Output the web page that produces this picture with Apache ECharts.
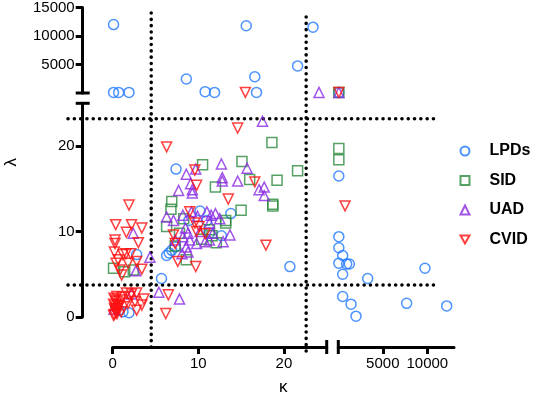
<!DOCTYPE html>
<html>
<head>
<meta charset="utf-8">
<script src="https://cdn.jsdelivr.net/npm/echarts@6/dist/echarts.min.js"></script>
<style>
html, body { margin: 0; padding: 0; background: #fff; }
#chart { width: 536px; height: 393px; }
</style>
</head>
<body>
<div id="chart"></div>
<script>
// points are [kappa, lambda]
var lpds = [
    [0.7, 0.8], [1.2, 0.6], [1.9, 0.5], [0.4, 1.1], [2.8, 7.3], [5.7, 4.5], [6.3, 7.2], [6.6, 7.5],
    [6.9, 7.8], [7.3, 8.2], [7.4, 17.3], [8.9, 11.3], [10.2, 12.4], [11.0, 11.3], [11.3, 9.8],
    [12.7, 9.5], [13.8, 12.1], [20.7, 5.9],
    [0.1, 12000], [0.1, 100], [0.7, 100], [1.9, 100], [8.6, 2450], [10.8, 230], [11.9, 100],
    [15.6, 11800], [16.6, 2850], [16.8, 100], [21.6, 4750], [23.4, 11550],
    [60, 100],
    [60, 16.5], [60, 9.4], [60, 8.1], [490, 7.2], [60, 6.3], [940, 6.2], [1240, 6.2], [490, 5.0],
    [3300, 4.5], [9740, 5.7], [490, 2.4], [1430, 1.5], [1990, 0.1], [7680, 1.6], [12180, 1.3]
];
var sid = [
    [0.1, 5.7], [1.4, 5.3], [2.4, 5.5],
    [6.3, 10.6], [6.8, 12.6], [6.9, 13.5], [7.3, 8.3], [7.8, 9.8], [8.3, 11.5], [8.6, 6.7],
    [10.4, 9.1], [10.5, 17.8], [11.3, 10.2], [11.6, 9.5], [12.0, 15.2], [12.1, 8.7], [13.2, 11.3],
    [13.2, 11.0], [15.0, 12.5], [15.1, 18.2], [16.0, 16.1], [18.6, 20.4], [18.7, 13.2],
    [18.7, 13.0], [19.2, 16.0], [21.6, 17.1],
    [60, 19.7], [60, 18.4],
    [60, 100]
];
var uad = [
    [0.15, 0.9], [2.2, 2.7], [2.4, 9.8], [2.7, 5.4], [4.35, 7.0], [5.4, 2.9], [7.8, 2.1],
    [6.3, 11.7], [7.1, 11.3], [7.3, 9.0], [7.7, 14.8], [8.2, 9.4], [8.5, 10.4], [8.6, 8.2],
    [8.6, 16.7], [8.8, 9.8], [8.8, 7.6], [9.0, 9.0], [9.1, 15.6], [9.2, 12.3], [9.3, 14.9],
    [9.3, 14.5], [9.7, 17.3], [9.8, 8.6], [10.2, 10.0], [10.8, 8.8], [11.0, 12.3], [11.3, 11.0],
    [11.3, 9.0], [11.7, 9.8], [12.0, 12.1], [12.5, 11.5], [12.7, 17.9], [12.8, 16.3], [12.8, 15.9],
    [12.9, 8.8], [13.7, 9.6], [14.6, 15.9], [15.7, 17.4], [17.1, 14.9], [17.5, 22.9], [17.7, 15.2],
    [17.7, 14.2], [8.2, 11.9], [9.9, 11.8], [11.5, 11.9], [8.1, 7.4],
    [24.1, 100],
    [60, 100]
];
var cvid = [
    [0.2, 0.3], [0.3, 0.8], [0.3, 1.3], [0.5, 1.8], [0.4, 0.5], [0.6, 1.0], [1.0, 0.6], [1.3, 1.2],
    [0.47, 2.4], [1.6, 2.8], [2.2, 2.7], [2.8, 2.8], [3.65, 2.1], [3.4, 1.4], [2.6, 1.8], [2.8, 0.8],
    [1.8, 1.6], [0.1, 0.2], [0.2, 1.0], [0.3, 2.0], [0.1, 1.5], [0.5, 0.4], [0.8, 1.4], [0.15, 2.2],
    [1.1, 2.3], [2.0, 2.4], [0.9, 2.0],
    [0.35, 10.8], [2.2, 10.8], [3.4, 10.4], [1.6, 9.9], [3.0, 8.7], [0.27, 9.0], [0.27, 8.6],
    [0.2, 7.6], [0.65, 6.7], [1.2, 7.3], [1.55, 7.4], [2.1, 7.4], [2.8, 6.5], [1.8, 6.3], [0.4, 6.3],
    [0.85, 5.5], [3.4, 5.6], [1.05, 4.9], [1.9, 13.1],
    [6.3, 19.9], [6.2, 0.4], [6.5, 2.6], [7.1, 9.6], [7.6, 6.5], [9.0, 12.3], [9.6, 17.2], [9.7, 5.9],
    [9.8, 15.4], [9.8, 10.0], [10.1, 10.6], [13.5, 13.8], [14.6, 22.1], [16.6, 15.8], [17.9, 8.4],
    [9.6, 11.0], [7.3, 8.6], [10.8, 9.75],
    [15.5, 100],
    [760, 13.0],
    [60, 100]
];

var kappaBreak = 25, lambdaBreak = 25;
var kappaMax = 13000, lambdaMax = 15000;
var kappaTicksLow = [0, 10, 20], kappaTicksHigh = [5000, 10000];
var lambdaTicksLow = [0, 10, 20], lambdaTicksHigh = [5000, 10000, 15000];
var kappaCuts = [4.5, 22.6];
var lambdaCuts = [23.2, 3.74];

var FONT = '"Liberation Sans", Arial, sans-serif';

var groups = [
    { name: 'LPDs', data: lpds, symbol: 'circle', color: '#1f78ff' },
    { name: 'SID', data: sid, symbol: 'rect', color: '#2b8a3c' },
    { name: 'UAD', data: uad, symbol: 'triangle', color: '#8a2be2' },
    { name: 'CVID', data: cvid, symbol: 'path://M0,0 L10,0 L5,9 Z', color: '#ff1010' }
];

// 0 = low/low, 1 = low kappa/high lambda, 2 = high kappa/low lambda, 3 = high/high
function gridOf(p) {
    return (p[0] > kappaBreak ? 2 : 0) + (p[1] > lambdaBreak ? 1 : 0);
}

var series = [];
groups.forEach(function (g) {
    for (var i = 0; i < 4; i++) {
        series.push({
            type: 'scatter',
            name: g.name,
            xAxisIndex: i,
            yAxisIndex: i,
            symbol: g.symbol,
            symbolSize: 10,
            clip: false,
            data: g.data.filter(function (p) { return gridOf(p) == i; }),
            itemStyle: { color: 'rgba(0,0,0,0)', borderColor: g.color, borderWidth: 1.5 },
            emphasis: { disabled: true }
        });
    }
});

function shownAxis(grid, min, max, ticks, margin) {
    return {
        gridIndex: grid, type: 'value', min: min, max: max, offset: 30,
        axisLine: { onZero: false, lineStyle: { color: '#000', width: 3 } },
        axisTick: { customValues: ticks, length: 7, lineStyle: { color: '#000', width: 3 } },
        axisLabel: {
            customValues: ticks, margin: margin, color: '#000', fontSize: 15, fontFamily: FONT,
            formatter: function (v) { return String(v); }
        },
        splitLine: { show: false }
    };
}
function hiddenAxis(grid, min, max) {
    return { gridIndex: grid, type: 'value', min: min, max: max, show: false, splitLine: { show: false } };
}

var dom = document.getElementById('chart');
var chart = echarts.init(dom);

var option = {
    animation: false,
    grid: [
        { left: 112.7, top: 103.3, width: 214, height: 213.7 },
        { left: 112.7, top: 7, width: 214, height: 86 },
        { left: 338.3, top: 103.3, width: 115.7, height: 213.7 },
        { left: 338.3, top: 7, width: 115.7, height: 86 }
    ],
    xAxis: [
        shownAxis(0, 0, kappaBreak, kappaTicksLow, 9),
        hiddenAxis(1, 0, kappaBreak),
        shownAxis(2, 0, kappaMax, kappaTicksHigh, 9),
        hiddenAxis(3, 0, kappaMax)
    ],
    yAxis: [
        shownAxis(0, 0, lambdaBreak, lambdaTicksLow, 8),
        shownAxis(1, 0, lambdaMax, lambdaTicksHigh, 8),
        hiddenAxis(2, 0, lambdaBreak),
        hiddenAxis(3, 0, lambdaMax)
    ],
    legend: {
        orient: 'vertical',
        left: 454.5,
        top: 137,
        itemWidth: 9,
        itemHeight: 9,
        itemGap: 11.5,
        selectedMode: false,
        data: ['LPDs', 'SID', 'UAD', 'CVID'],
        textStyle: {
            color: '#000', fontSize: 16, fontWeight: 'bold', fontFamily: FONT,
            lineHeight: 18, padding: [0, 0, 0, 15]
        }
    },
    series: series
};
chart.setOption(option);

// reference lines, break marks and axis titles, placed through the axis scales
var px = function (g, v) { return chart.convertToPixel({ gridIndex: g }, v); };
var dotted = { stroke: '#000', lineWidth: 3.5, lineDash: [0.1, 6.2], lineCap: 'round' };
var solid = { stroke: '#000', lineWidth: 3 };
var ll0 = px(0, [0, 0]), llTop = px(0, [kappaBreak, lambdaBreak]);
var ulBottom = px(1, [0, 0])[1];
var lr0 = px(2, [0, 0])[0];
var yAxisX = ll0[0] - 30, xAxisY = ll0[1] + 30;
var graphic = [];

var v1 = px(0, [kappaCuts[0], 0])[0], v2 = px(0, [kappaCuts[1], 0])[0];
graphic.push({ type: 'line', z: 1, shape: { x1: v1, y1: 13, x2: v1, y2: 353 }, style: dotted });
graphic.push({ type: 'line', z: 1, shape: { x1: v2, y1: 17, x2: v2, y2: 357 }, style: dotted });
var h1 = px(0, [0, lambdaCuts[0]])[1], h2 = px(0, [0, lambdaCuts[1]])[1];
graphic.push({ type: 'line', z: 1, shape: { x1: 68, y1: h1, x2: 436, y2: h1 }, style: dotted });
graphic.push({ type: 'line', z: 1, shape: { x1: 68, y1: h2, x2: 438, y2: h2 }, style: dotted });

[llTop[1], ulBottom].forEach(function (y) {
    graphic.push({ type: 'line', shape: { x1: yAxisX - 7, y1: y, x2: yAxisX + 7, y2: y }, style: solid });
});
[llTop[0], lr0].forEach(function (x) {
    graphic.push({ type: 'line', shape: { x1: x, y1: xAxisY - 7, x2: x, y2: xAxisY + 7 }, style: solid });
});

var kappaRight = px(2, [kappaMax, 0])[0];
graphic.push({
    type: 'text', x: (ll0[0] + kappaRight) / 2, y: 387,
    style: { text: 'κ', fill: '#000', font: '17px ' + FONT, textAlign: 'center', textVerticalAlign: 'middle' }
});
var lambdaTop = px(1, [0, lambdaMax])[1];
graphic.push({
    type: 'text', x: 11, y: (ll0[1] + lambdaTop) / 2, rotation: Math.PI / 2,
    style: { text: 'λ', fill: '#000', font: '17px ' + FONT, textAlign: 'center', textVerticalAlign: 'middle' }
});

chart.setOption({ graphic: graphic });
</script>
</body>
</html>
